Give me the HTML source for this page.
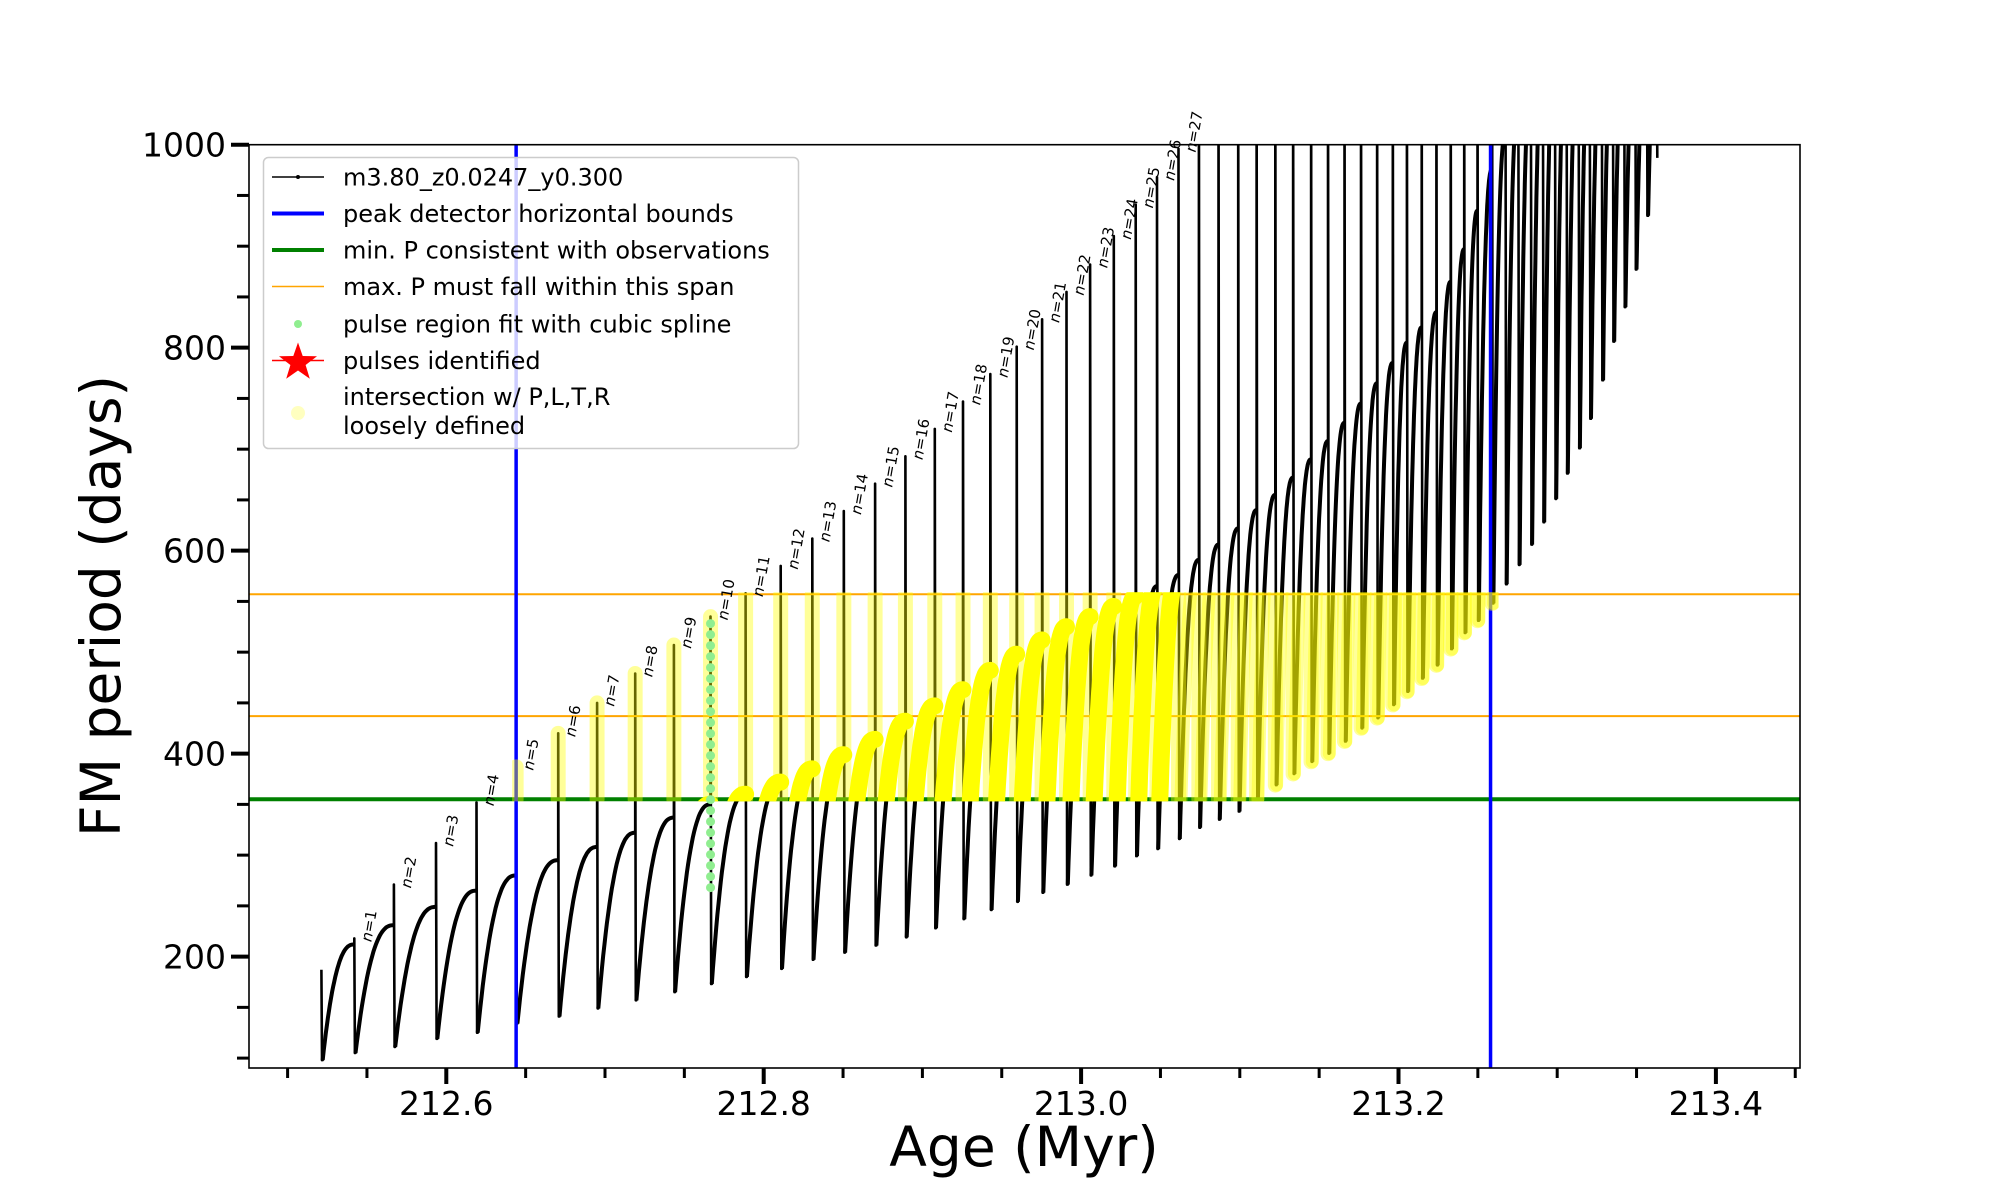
<!DOCTYPE html>
<html><head><meta charset="utf-8"><style>
html,body{margin:0;padding:0;background:#fff;}
svg{display:block;font-family:"DejaVu Sans","Liberation Sans",sans-serif;}
</style></head><body>
<svg id="chart" width="2000" height="1200" viewBox="0 0 2000 1200" xmlns="http://www.w3.org/2000/svg">
<defs>
<clipPath id="axclip"><rect x="249" y="144.7" width="1551" height="923.3"/></clipPath>
</defs>
<rect x="0" y="0" width="2000" height="1200" fill="#fff"/>
<g id="marks"></g>
<g id="axes"></g>
<g id="legend"></g>
</svg>
<script>
// ---- data ----
const pulseAges = [212.5213, 212.542, 212.567, 212.5935, 212.619, 212.644, 212.6705, 212.695, 212.719, 212.7434, 212.7665, 212.7886, 212.8107, 212.8306, 212.8505, 212.8702, 212.8893, 212.9078, 212.9256, 212.9428, 212.9594, 212.9754, 212.9908, 213.0057, 213.0206, 213.0344, 213.0478, 213.0614, 213.0742, 213.0866, 213.0990, 213.1106, 213.1224, 213.1336, 213.1449, 213.1556, 213.1660, 213.1764, 213.1865, 213.1964, 213.2053, 213.2146, 213.2239, 213.2329, 213.2414, 213.2498, 213.2590, 213.2674, 213.2755, 213.2834, 213.2910, 213.2986, 213.3059, 213.3135, 213.3205, 213.3281, 213.3351, 213.3422, 213.3492, 213.3565, 213.3627];
const spikeTops = [187, 218, 271, 312, 352, 387, 420, 450, 479, 507, 535, 558, 585, 612, 639, 666, 693, 720, 747, 774, 801, 828, 855, 882, 910, 941, 968, 996, 1100, 1100, 1100, 1100, 1100, 1100, 1100, 1100, 1100, 1100, 1100, 1100, 1100, 1100, 1100, 1100, 1100, 1100, 1100, 1100, 1100, 1100, 1100, 1100, 1100, 1100, 1100, 1100, 1100, 1100, 1100, 1100, 1100];
const pulseMinima = [98, 105, 111, 119, 125, 134, 141, 149, 157, 165, 173, 180, 188, 197, 204, 211, 219, 228, 237, 246, 254, 263, 271, 280, 289, 299, 306, 316, 327, 335, 343, 355, 369, 380, 392, 400, 412, 425, 435, 448, 461, 474, 487, 503, 519, 531, 548, 567, 586, 606, 628, 651, 676, 701, 730, 768, 806, 840, 877, 930, 987];
const prePulsePeaks = [187, 212, 231, 249, 265, 280, 295, 308, 322, 337, 350, 360, 372, 385, 399, 414, 432, 447, 463, 482, 498, 512, 525, 535, 545, 555, 565, 576, 591, 606, 622, 640, 655, 672, 690, 708, 726, 745, 765, 785, 805, 820, 835, 865, 897, 935, 976, 1010, 1040, 1060, 1080, 1100, 1100, 1100, 1100, 1100, 1100, 1100, 1100, 1100, 1100];
const labeledPulses = 27;
const blueBounds = [212.644, 213.258];
const greenMinP = 355;
const orangeSpan = [437, 557];
const greenPulseIndex = 10;
const greenRange = [268, 532];
const xTicksMajor = [212.6, 212.8, 213.0, 213.2, 213.4];
const xTickLabels = ["212.6", "212.8", "213.0", "213.2", "213.4"];
const yTicksMajor = [200, 400, 600, 800, 1000];
const yTickLabels = ["200", "400", "600", "800", "1000"];

// ---- scales ----
const X0 = 249, X1 = 1800, Y0 = 144.7, Y1 = 1068;
function xs(a){ return 446.3 + (a - 212.6) * 1587; }
function ys(v){ return 144.7 + (1000 - v) * 1.0149; }
const NS = "http://www.w3.org/2000/svg";
function mk(tag, attrs, parent){ const e = document.createElementNS(NS, tag); for (const k in attrs) e.setAttribute(k, attrs[k]); parent.appendChild(e); return e; }
const marks = document.getElementById('marks');
const axes = document.getElementById('axes');
const legend = document.getElementById('legend');

// build segments
const curves = []; const spikes = [];
for (let k = 0; k < pulseAges.length; k++) {
  spikes.push({a: pulseAges[k], top: spikeTops[k], bot: pulseMinima[k], from: prePulsePeaks[k]});
  if (k + 1 < pulseAges.length) {
    const pts = []; const a0 = pulseAges[k] + 0.0008, a1 = pulseAges[k+1];
    const v0 = pulseMinima[k], v1 = prePulsePeaks[k+1];
    for (let i = 0; i <= 30; i++) { const u = i / 30; const f = 1 - Math.pow(1 - u, 2.5); pts.push([a0 + (a1 - a0) * u, v0 + (v1 - v0) * f]); }
    pts.peak = v1;
    curves.push(pts);
  }
}
function ptsStr(pts){ return pts.map(p => xs(p[0]).toFixed(1) + ',' + ys(p[1]).toFixed(1)).join(' '); }

// main black series
const blk = mk('g', {'clip-path': 'url(#axclip)'}, marks);


let all = [];
for (let k = 0; k < pulseAges.length; k++) {
  const s = spikes[k];
  if (k > 0) all.push([s.a, s.from]);
  all.push([s.a, s.top]); all.push([s.a + 0.0004, s.bot]);
  if (k < curves.length) all = all.concat(curves[k]);
}
const mainLine = mk('polyline', {points: ptsStr(all), fill: 'none', stroke: '#000', 'stroke-width': 2.6, 'stroke-linejoin': 'round'}, blk);


curves.forEach(c => { const p = mk('polyline', {points: ptsStr(c), fill: 'none', stroke: '#000', 'stroke-width': 4}, blk);
  
   });

// horizontal / vertical reference lines
function hline(v, color, w, name){ const l = mk('line', {x1: X0, x2: X1, y1: ys(v), y2: ys(v), stroke: color, 'stroke-width': w}, marks);
  
   }
hline(orangeSpan[0], '#ffa500', 2, 'max-p-lower-line');
hline(orangeSpan[1], '#ffa500', 2, 'max-p-upper-line');
hline(greenMinP, '#008000', 4, 'min-p-line');
blueBounds.forEach((b, i) => { const l = mk('line', {x1: xs(b), x2: xs(b), y1: Y0, y2: Y1, stroke: '#0000ff', 'stroke-width': 3.5}, marks);
  
   });

// yellow intersection band
const bandClip = mk('clipPath', {id: 'bandclip'}, document.querySelector('defs'));
mk('rect', {x: xs(blueBounds[0]) - 4, y: ys(orangeSpan[1] + 2), width: xs(blueBounds[1]) - xs(blueBounds[0]) + 12, height: ys(greenMinP - 2) - ys(orangeSpan[1] + 2)}, bandClip);
const yel = mk('g', {'clip-path': 'url(#bandclip)'}, marks);


spikes.forEach(s => { const lo = Math.max(s.bot, greenMinP), hi = Math.min(s.top, orangeSpan[1]); if (hi <= lo) return;
  const l = mk('line', {x1: xs(s.a), x2: xs(s.a), y1: ys(lo), y2: ys(hi), stroke: '#ffff00', 'stroke-opacity': 0.4, 'stroke-width': 15, 'stroke-linecap': 'round'}, yel);
  
   });
curves.forEach(c => { const solid = c.peak <= 585;
  const p = mk('polyline', {points: ptsStr(c), fill: 'none', stroke: '#ffff00', 'stroke-opacity': solid ? 1 : 0.4, 'stroke-width': solid ? 17 : 13, 'stroke-linecap': 'round', 'stroke-linejoin': 'round'}, yel);
  
   });

// green cubic spline region
const gx = xs(pulseAges[greenPulseIndex]);
const gl = mk('line', {x1: gx, x2: gx, y1: ys(greenRange[0]), y2: ys(greenRange[1]), stroke: '#90ee90', 'stroke-width': 9, 'stroke-linecap': 'round', 'stroke-dasharray': '0 11'}, marks);



// n labels
for (let k = 1; k <= labeledPulses; k++) {
  const x = xs(pulseAges[k]) + 17, y = ys(spikeTops[k]) + 4;
  const t = mk('text', {x: x, y: y, transform: `rotate(-80 ${x} ${y})`, 'font-size': 15, fill: '#000'}, marks);
  
  
  t.innerHTML = '<tspan font-style="italic">n</tspan>=' + k;
}

// axes frame
const frame = mk('rect', {x: X0, y: Y0, width: X1 - X0, height: Y1 - Y0, fill: 'none', stroke: '#000', 'stroke-width': 1.6}, axes);


// x ticks
for (let a = 212.5; a <= 213.451; a += 0.05) {
  const major = xTicksMajor.some(m => Math.abs(m - a) < 1e-6);
  const l = mk('line', {x1: xs(a), x2: xs(a), y1: Y1, y2: Y1 + (major ? 16 : 10), stroke: '#000', 'stroke-width': major ? 4 : 3}, axes);
  
  
}
xTicksMajor.forEach((a, i) => { const t = mk('text', {x: xs(a), y: 1115, 'font-size': 33, 'text-anchor': 'middle'}, axes); t.textContent = xTickLabels[i];
  
   });
// y ticks
for (let v = 100; v <= 1000; v += 50) {
  const major = yTicksMajor.includes(v);
  const l = mk('line', {x1: X0 - (major ? 18 : 12), x2: X0, y1: ys(v), y2: ys(v), stroke: '#000', 'stroke-width': major ? 4 : 3}, axes);
  
  
}
yTicksMajor.forEach((v, i) => { const t = mk('text', {x: 226, y: ys(v) + 12, 'font-size': 33, 'text-anchor': 'end'}, axes); t.textContent = yTickLabels[i];
  
   });
const xl = mk('text', {x: 1024, y: 1166, 'font-size': 55, 'text-anchor': 'middle'}, axes); xl.textContent = 'Age (Myr)';


const yl = mk('text', {x: 120, y: 606, 'font-size': 55, 'text-anchor': 'middle', transform: 'rotate(-90 120 606)'}, axes); yl.textContent = 'FM period (days)';



// legend
const lb = mk('rect', {x: 263.5, y: 157.5, width: 535, height: 291, rx: 5, fill: '#fff', 'fill-opacity': 0.8, stroke: '#ccc', 'stroke-width': 1.5}, legend);


const entries = [
  ['m3.80_z0.0247_y0.300', 177, 'series'],
  ['peak detector horizontal bounds', 213.5, 'blue'],
  ['min. P consistent with observations', 250, 'green'],
  ['max. P must fall within this span', 286.5, 'orange'],
  ['pulse region fit with cubic spline', 324, 'dot'],
  ['pulses identified', 360.5, 'star'],
];
entries.forEach(e => {
  const g = mk('g', {}, legend);
  
  
  const y = e[1];
  if (e[2] === 'series') { mk('line', {x1: 272, x2: 324, y1: y, y2: y, stroke: '#000', 'stroke-width': 1.6}, g); mk('circle', {cx: 298, cy: y, r: 2, fill: '#000'}, g); }
  if (e[2] === 'blue') mk('line', {x1: 272, x2: 324, y1: y, y2: y, stroke: '#0000ff', 'stroke-width': 4}, g);
  if (e[2] === 'green') mk('line', {x1: 272, x2: 324, y1: y, y2: y, stroke: '#008000', 'stroke-width': 4}, g);
  if (e[2] === 'orange') mk('line', {x1: 272, x2: 324, y1: y, y2: y, stroke: '#ffa500', 'stroke-width': 1.6}, g);
  if (e[2] === 'dot') mk('circle', {cx: 298, cy: y, r: 4, fill: '#90ee90'}, g);
  if (e[2] === 'star') {
    mk('line', {x1: 272, x2: 324, y1: y, y2: y, stroke: '#ff0000', 'stroke-width': 1.6}, g);
    const R = 20, r = 8; let p = [];
    for (let i = 0; i < 10; i++) { const ang = -Math.PI/2 + i * Math.PI/5; const rr = i % 2 ? r : R; p.push((298 + rr*Math.cos(ang)).toFixed(1) + ',' + (y + 2 + rr*Math.sin(ang)).toFixed(1)); }
    mk('polygon', {points: p.join(' '), fill: '#ff0000'}, g);
  }
  const t = mk('text', {x: 343, y: y + 8.5, 'font-size': 24}, g); t.textContent = e[0];
});
const g7 = mk('g', {}, legend);


mk('circle', {cx: 298, cy: 413, r: 7, fill: '#ffffc0'}, g7);
const t7a = mk('text', {x: 343, y: 405, 'font-size': 24}, g7); t7a.textContent = 'intersection w/ P,L,T,R';
const t7b = mk('text', {x: 343, y: 434, 'font-size': 24}, g7); t7b.textContent = 'loosely defined';
</script>
</body></html>
